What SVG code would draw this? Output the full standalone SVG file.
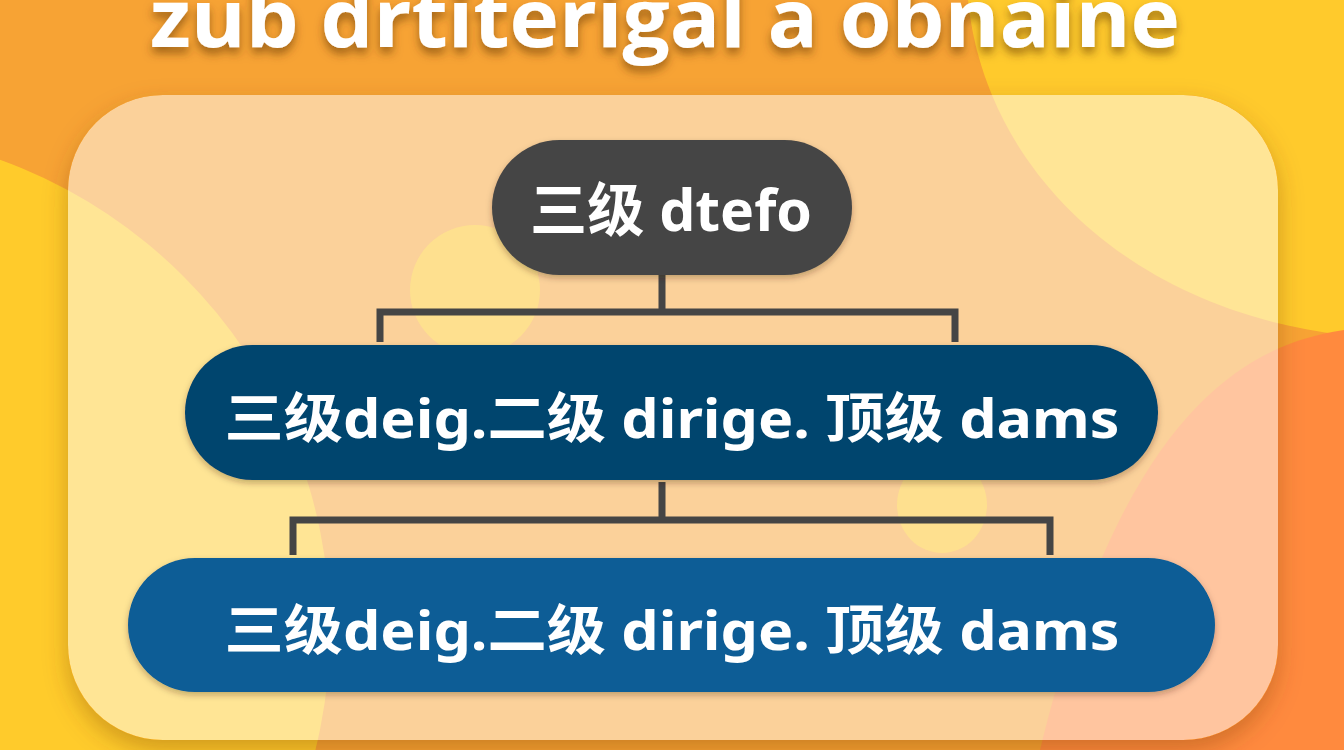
<svg xmlns="http://www.w3.org/2000/svg" width="1344" height="750" viewBox="0 0 1344 750">
  <defs>
    <filter id="titleShadow" x="-10%" y="-50%" width="120%" height="200%">
      <feDropShadow dx="0" dy="6" stdDeviation="5" flood-color="#5a3000" flood-opacity="0.55"/>
    </filter>
    <filter id="panelShadow" x="-10%" y="-10%" width="120%" height="130%">
      <feDropShadow dx="0" dy="10" stdDeviation="12" flood-color="#7a3a00" flood-opacity="0.35"/>
    </filter>
    <filter id="nodeShadow" x="-10%" y="-20%" width="120%" height="150%">
      <feDropShadow dx="0" dy="3" stdDeviation="3" flood-color="#3a2000" flood-opacity="0.3"/>
    </filter>
    <clipPath id="panelClip">
      <rect x="68" y="95" width="1210" height="645" rx="95"/>
    </clipPath>
  </defs>
  <style>
    .title { font-family: "Open Sans", "Noto Sans", sans-serif; font-weight: 700; fill: #ffffff; }
    .label { font-family: "Noto Sans", "Noto Sans CJK SC", sans-serif; font-weight: 700; fill: #ffffff; }
    .conn { fill: none; stroke: #454545; stroke-width: 7; stroke-linecap: butt; stroke-linejoin: miter; }
  </style>

  <g id="background">
    <rect x="0" y="0" width="1344" height="750" fill="#F7A334"/>
    <circle cx="-170" cy="630" r="500" fill="#FFCB2B"/>
    <path d="M968,0 C985,170 1130,310 1344,335 L1344,0 Z" fill="#FFCA2C"/>
    <path d="M1344,330 C1240,345 1120,420 1040,750 L1344,750 Z" fill="#FF8A3E"/>
  </g>

  <g id="panel">
    <rect x="68" y="95" width="1210" height="645" rx="95" fill="#F7A334" filter="url(#panelShadow)"/>
    <g clip-path="url(#panelClip)">
      <rect x="0" y="0" width="1344" height="750" fill="#F7A334"/>
      <circle cx="-170" cy="630" r="500" fill="#FFCB2B"/>
      <path d="M968,0 C985,170 1130,310 1344,335 L1344,0 Z" fill="#FFCA2C"/>
      <path d="M1344,330 C1240,345 1120,420 1040,750 L1344,750 Z" fill="#FF8A3E"/>
      <rect x="68" y="95" width="1210" height="645" rx="95" fill="#ffffff" fill-opacity="0.5"/>
      <circle cx="475" cy="290" r="65" fill="#FFE48C" fill-opacity="0.8"/>
      <ellipse cx="942" cy="505" rx="45" ry="48" fill="#FFE48C" fill-opacity="0.8"/>
    </g>
  </g>

  <g id="title">
    <text class="title" x="665" y="47" font-size="80" text-anchor="middle" textLength="1030" lengthAdjust="spacingAndGlyphs" filter="url(#titleShadow)">zub drtiterigal a obnaine</text>
  </g>

  <g id="connectors">
    <path class="conn" d="M662,275 V312 M380,342 V312 H955 V342"/>
    <path class="conn" d="M662,482 V520 M293,555 V520 H1050 V555"/>
  </g>

  <g id="node-top">
    <rect x="492" y="140" width="360" height="135" rx="67.5" fill="#454545" filter="url(#nodeShadow)"/>
    <text class="label" x="671" y="231" font-size="58" text-anchor="middle" textLength="282" lengthAdjust="spacingAndGlyphs">三级 dtefo</text>
  </g>

  <g id="node-middle">
    <rect x="185" y="345" width="973" height="135" rx="67.5" fill="#05446E" filter="url(#nodeShadow)"/>
    <text class="label" x="672" y="438" font-size="54" text-anchor="middle" textLength="895" lengthAdjust="spacingAndGlyphs">三级deig.二级 dirige. 顶级 dams</text>
  </g>

  <g id="node-bottom">
    <rect x="128" y="558" width="1087" height="134" rx="67" fill="#075D96" filter="url(#nodeShadow)"/>
    <text class="label" x="672" y="650" font-size="54" text-anchor="middle" textLength="895" lengthAdjust="spacingAndGlyphs">三级deig.二级 dirige. 顶级 dams</text>
  </g>
</svg>
